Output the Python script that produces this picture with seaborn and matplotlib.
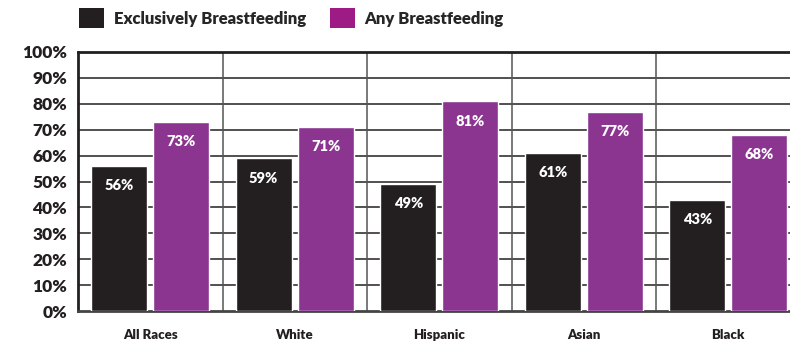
import matplotlib
matplotlib.use("Agg")
import matplotlib.pyplot as plt
import seaborn as sns
import pandas as pd
from matplotlib.patches import Patch

categories = ["All Races", "White", "Hispanic", "Asian", "Black"]
exclusive = [56, 59, 49, 61, 43]
any_bf = [73, 71, 81, 77, 68]
series_names = ["Exclusively Breastfeeding", "Any Breastfeeding"]
yticks = list(range(0, 101, 10))

sns.set_theme(style="white")
plt.rcParams['font.family'] = ['Lato', 'DejaVu Sans']
plt.rcParams['font.weight'] = 'heavy'

df = pd.DataFrame({
    "Race": categories * 2,
    "Series": [series_names[0]] * len(categories) + [series_names[1]] * len(categories),
    "Value": exclusive + any_bf,
})

dark = "#231f20"
purple = "#8b3591"
legend_purple = "#9e1b86"

fig = plt.figure(figsize=(7.9, 3.46), dpi=100)
ax = fig.add_axes([78/790, 35/346, 722.5/790, 259/346])

sns.barplot(data=df, x="Race", y="Value", hue="Series", order=categories,
            hue_order=series_names, palette=[dark, purple], width=0.86, gap=0.1,
            saturation=1, ax=ax, legend=False, zorder=3)

ax.set_ylim(0, 100)
ax.set_xlim(-0.5, 4.5)
ax.set_yticks(yticks)
ax.set_yticklabels([f"{t}%" for t in yticks], fontsize=12.5, fontweight='heavy', color=dark)
ax.tick_params(axis='y', length=0, pad=8)
ax.tick_params(axis='x', length=0, pad=13)
for lbl in ax.get_xticklabels():
    lbl.set_fontsize(9.5)
    lbl.set_fontweight('heavy')
    lbl.set_color(dark)
ax.set_xlabel("")
ax.set_ylabel("")

for t in yticks[1:]:
    ax.axhline(t, color=dark, lw=1.1, zorder=1)
for i in range(len(categories) - 1):
    ax.axvline(i + 0.5, color="#555555", lw=1.1, zorder=1)

ax.spines['right'].set_visible(False)
ax.spines['left'].set_color(dark)
ax.spines['left'].set_linewidth(2)
ax.spines['top'].set_color(dark)
ax.spines['top'].set_linewidth(2)
ax.spines['bottom'].set_color("#444444")
ax.spines['bottom'].set_linewidth(2)

for container in ax.containers:
    labels = [f"{int(round(b.get_height()))}%" for b in container]
    ax.bar_label(container, labels=labels, label_type='edge', padding=-19,
                 color='white', fontsize=10.5, fontweight='heavy')

handles = [Patch(facecolor=dark, edgecolor='none'), Patch(facecolor=legend_purple, edgecolor='none')]
fig.legend(handles, series_names, loc='upper left', bbox_to_anchor=(64/790, 1.02),
           ncol=2, frameon=False, handlelength=1.5, handleheight=1.5,
           handletextpad=0.6, columnspacing=1.4,
           prop={'family': ['Lato', 'DejaVu Sans'], 'weight': 'heavy', 'size': 12})

fig.savefig("out.png", dpi=100)
